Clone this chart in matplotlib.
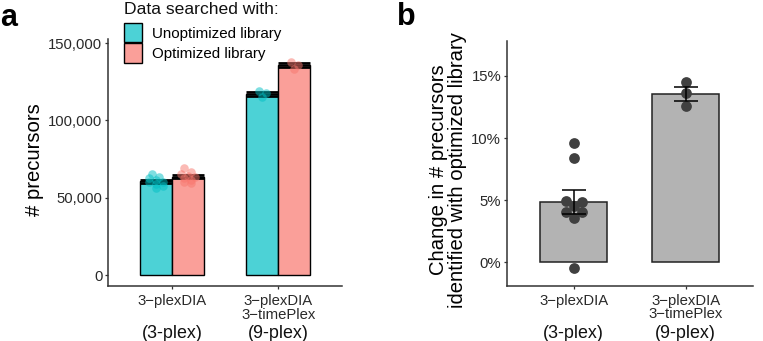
import numpy as np
import matplotlib
matplotlib.use("Agg")
import matplotlib.pyplot as plt
from matplotlib.patches import Patch
from matplotlib.transforms import blended_transform_factory

plt.rcParams['font.family'] = ['Liberation Sans', 'DejaVu Sans']

# ---- data ----
groups = ["3\u2212plexDIA", "3\u2212plexDIA\n3\u2212timePlex"]
plex = ["(3-plex)", "(9-plex)"]
series = ["Unoptimized library", "Optimized library"]

# precursors per run (panel a)
unopt_3plex = [65500, 63600, 62800, 61200, 60500, 60000, 58600, 57800, 56400]
opt_3plex = [69300, 66800, 65400, 64200, 63300, 62600, 61500, 60000, 59500]
unopt_9plex = [118800, 117600, 115200]
opt_9plex = [137800, 136000, 133600]

# % change with optimized library (panel b)
change_3plex = [9.63, 8.42, 4.96, 4.88, 4.53, 4.08, 4.08, 3.54, -0.48]
change_9plex = [14.54, 13.60, 12.58]

teal = "#4cd2d6"
pink = "#fa9f99"
teal_pt = "#00BFC4"
pink_pt = "#F8766D"
axcol = "#333333"


def mean_se(v):
    v = np.asarray(v, float)
    return v.mean(), v.std(ddof=1) / np.sqrt(len(v))


def swarm(ax, x0, vals, thresh_px, step_px):
    # group close values into rows and spread them sideways
    px_per_y = abs(ax.transData.transform((0, 1))[1] - ax.transData.transform((0, 0))[1])
    px_per_x = abs(ax.transData.transform((1, 0))[0] - ax.transData.transform((0, 0))[0])
    order = np.argsort(vals)[::-1]
    vals = np.asarray(vals, float)
    xs = np.zeros(len(vals))
    bins = []
    for i in order:
        if bins and (vals[bins[-1][0]] - vals[i]) * px_per_y <= thresh_px:
            bins[-1].append(i)
        else:
            bins.append([i])
    for b in bins:
        n = len(b)
        for k, i in enumerate(b):
            xs[i] = x0 + (k - (n - 1) / 2) * step_px / px_per_x
    return xs, vals


def style_axes(ax):
    for s in ["top", "right"]:
        ax.spines[s].set_visible(False)
    for s in ["left", "bottom"]:
        ax.spines[s].set_color(axcol)
        ax.spines[s].set_linewidth(1.1)
    ax.tick_params(colors=axcol, width=0.9, length=2.5, pad=1.5, labelsize=10.7,
                   labelcolor="#2a2a2a")
    ax.tick_params(axis="x", pad=3.5)


fig = plt.figure(figsize=(7.63, 3.41), dpi=100)
W, H = 763, 341

# ---- panel a ----
axa = fig.add_axes([108 / W, 1 - 286 / H, 234 / W, 247 / H])
axa.set_xlim(0.4, 2.6)
axa.set_ylim(-7100, 152700)
bw = 0.3
data_a = [(unopt_3plex, opt_3plex), (unopt_9plex, opt_9plex)]
for gi, (u, o) in enumerate(data_a):
    xc = gi + 1
    for vals, dx, fc, pc in [(u, -bw / 2, teal, teal_pt), (o, bw / 2, pink, pink_pt)]:
        m, se = mean_se(vals)
        axa.bar(xc + dx, m, width=bw, color=fc, edgecolor="black", linewidth=1.0, zorder=2)
        axa.errorbar(xc + dx, m, yerr=se, color="black", capsize=11.2, elinewidth=1.5,
                     capthick=2.0, zorder=3)
        xs, ys = swarm(axa, xc + dx, vals, 4, 7)
        axa.scatter(xs, ys, s=38, color=pc, alpha=0.5, linewidths=0, zorder=4)

axa.set_yticks([0, 50000, 100000, 150000])
axa.set_yticklabels(["0", "50,000", "100,000", "150,000"])
axa.set_xticks([1, 2])
axa.set_xticklabels(groups, linespacing=0.95)
style_axes(axa)
fig.text(35 / W, 1 - 160 / H, "# precursors", rotation=90, ha="center", va="center",
         fontsize=14.6)

# legend: title as separate text, keys below it
fig.text(124 / W, 1 - 10 / H, "Data searched with:", ha="left", va="center",
         fontsize=12.6, color="#111111")
handles = [Patch(facecolor=teal, edgecolor="black", linewidth=1.0),
           Patch(facecolor=pink, edgecolor="black", linewidth=1.0)]
leg = axa.legend(handles, series, loc="upper left",
                 bbox_to_anchor=(123.5 / W, 1 - 23 / H), bbox_transform=fig.transFigure,
                 frameon=False, borderpad=0, borderaxespad=0,
                 handlelength=1.25, handleheight=1.6, handletextpad=0.6,
                 labelspacing=0.05, fontsize=10.9)

# ---- panel b ----
axb = fig.add_axes([506.7 / W, 1 - 285.7 / H, 246 / W, 245 / H])
axb.set_xlim(0.4, 2.6)
axb.set_ylim(-1.88, 17.84)
for gi, vals in enumerate([change_3plex, change_9plex]):
    xc = gi + 1
    m, se = mean_se(vals)
    axb.bar(xc, m, width=0.6, color="#b3b3b3", edgecolor="#222222", linewidth=1.1, zorder=2)
    xs, ys = swarm(axb, xc, vals, 4, 16)
    axb.scatter(xs, ys, s=60, color="#404040", linewidths=0, zorder=3)
    axb.errorbar(xc, m, yerr=se, color="black", capsize=8.4, elinewidth=1.1,
                 capthick=1.1, zorder=4)

axb.set_yticks([0, 5, 10, 15])
axb.set_yticklabels(["0%", "5%", "10%", "15%"])
axb.set_xticks([1, 2])
axb.set_xticklabels(groups, linespacing=0.95)
style_axes(axb)
fig.text(448 / W, 1 - 170 / H,
         "Change in # precursors\nidentified with optimized library",
         rotation=90, ha="center", va="center", multialignment="center",
         fontsize=14.6, linespacing=1.05)

# sample size labels under the ticks
for ax in (axa, axb):
    tr = blended_transform_factory(ax.transData, fig.transFigure)
    for xc, lab in zip([1, 2], plex):
        ax.text(xc, 1 - 334 / H, lab, transform=tr, ha="center", va="center",
                fontsize=12.9, color="#111111")

fig.text(0 / W, 1 - 26 / H, "a", fontsize=22, fontweight="bold", ha="left", va="baseline")
fig.text(397 / W, 1 - 25 / H, "b", fontsize=22, fontweight="bold", ha="left", va="baseline")

fig.savefig("out.png", dpi=100)
